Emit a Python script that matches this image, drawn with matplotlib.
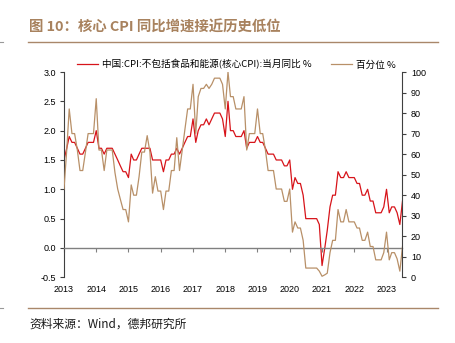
import numpy as np
import pandas as pd
import matplotlib
matplotlib.use('Agg')
import matplotlib.pyplot as plt
from matplotlib.lines import Line2D

plt.rcParams['font.family'] = ['Noto Sans CJK SC', 'DejaVu Sans']

# 月度数据 2013-01 ~ 2023-07
months = pd.date_range('2013-01-01', '2023-07-01', freq='MS')

core_cpi = [
    1.5, 1.7, 1.9, 1.8, 1.8, 1.7, 1.6, 1.6, 1.7, 1.8, 1.8, 1.8,   # 2013
    2.0, 1.7, 1.7, 1.6, 1.7, 1.7, 1.7, 1.6, 1.5, 1.4, 1.3, 1.3,   # 2014
    1.2, 1.6, 1.5, 1.5, 1.6, 1.7, 1.7, 1.7, 1.7, 1.5, 1.5, 1.5,   # 2015
    1.5, 1.3, 1.5, 1.5, 1.6, 1.6, 1.7, 1.6, 1.7, 1.8, 1.9, 1.9,   # 2016
    2.2, 1.8, 2.0, 2.1, 2.1, 2.2, 2.1, 2.2, 2.3, 2.3, 2.3, 2.2,   # 2017
    1.9, 2.5, 2.0, 2.0, 1.9, 1.9, 1.9, 2.0, 1.7, 1.8, 1.8, 1.8,   # 2018
    1.9, 1.8, 1.8, 1.7, 1.6, 1.6, 1.6, 1.5, 1.5, 1.5, 1.4, 1.4,   # 2019
    1.5, 1.0, 1.2, 1.1, 1.1, 0.9, 0.5, 0.5, 0.5, 0.5, 0.5, 0.4,   # 2020
    -0.3, 0.0, 0.3, 0.7, 0.9, 0.9, 1.3, 1.2, 1.2, 1.3, 1.2, 1.2,  # 2021
    1.2, 1.1, 1.1, 0.9, 0.9, 1.0, 0.8, 0.8, 0.6, 0.6, 0.6, 0.7,   # 2022
    1.0, 0.6, 0.7, 0.7, 0.6, 0.4, 0.8,                            # 2023
]

percentile = [
    43, 62, 82, 70, 70, 62, 52, 52, 61, 70, 70, 70,               # 2013
    87, 62, 62, 52, 62, 62, 62, 51, 43, 38, 33, 33,               # 2014
    27, 45, 40, 40, 49, 61, 61, 69, 61, 41, 49, 42,               # 2015
    42, 33, 42, 42, 52, 52, 68, 52, 62, 72, 82, 82,               # 2016
    94, 70, 88, 92, 92, 94, 92, 94, 97, 97, 97, 94,               # 2017
    82, 100, 88, 88, 82, 82, 82, 88, 62, 70, 70, 70,              # 2018
    82, 70, 70, 62, 52, 52, 52, 43, 43, 43, 37, 37,               # 2019
    43, 22, 27, 24, 24, 18, 4.5, 4.5, 4.5, 4.5, 4.5, 3,           # 2020
    0.5, 1.2, 2, 12, 18, 18, 33, 27, 27, 33, 27, 27,              # 2021
    27, 24, 24, 18, 18, 22, 15, 15, 8.5, 8.5, 8.5, 12,            # 2022
    22, 8.5, 12, 12, 9, 3, 15,                                    # 2023
]

years = list(range(2013, 2024))
year_labels = [str(y) for y in years]
left_ticks = np.arange(-0.5, 3.01, 0.5)
right_ticks = np.arange(0, 101, 10)

red = '#D7141A'
tan = '#B89068'
brown = '#A9876A'

fig = plt.figure(figsize=(4.56, 3.43), dpi=100)
ax = fig.add_axes([64 / 456, 1 - 277.3 / 343, (402.5 - 64) / 456, (277.3 - 72) / 343])
ax2 = ax.twinx()

l1, = ax.plot(months, core_cpi, color=red, lw=0.9)
l2, = ax2.plot(months, percentile, color=tan, lw=0.9)

ax.set_xlim(months[0], months[-1])
ax.set_ylim(-0.5, 3.0)
ax2.set_ylim(0, 100)

ax.set_xticks([pd.Timestamp(f'{y}-01-01') for y in years])
ax.set_xticklabels(year_labels)
ax.set_yticks(left_ticks)
ax.set_yticklabels([f'{v:.1f}' for v in left_ticks])
ax2.set_yticks(right_ticks)
ax2.set_yticklabels([str(v) for v in right_ticks])

# 横轴放在0处，标签留在底部
ax.spines['bottom'].set_position(('data', 0))
ax.spines['bottom'].set_color('#808080')
ax.spines['bottom'].set_linewidth(1.0)
for a in (ax, ax2):
    a.spines['top'].set_visible(False)
ax2.spines['bottom'].set_visible(False)
ax2.spines['left'].set_visible(False)
ax.spines['right'].set_visible(False)
ax.spines['left'].set_color('#404040')
ax2.spines['right'].set_color('#404040')

ax.tick_params(axis='x', direction='out', length=3, pad=24, colors='#808080',
               labelcolor='black', labelsize=6.5, labelfontfamily='Liberation Sans')
ax.tick_params(axis='y', direction='out', length=3, pad=3, colors='#404040',
               labelcolor='black', labelsize=6.5, labelfontfamily='Liberation Sans')
ax2.tick_params(axis='y', direction='out', length=3, pad=3, colors='#404040',
                labelcolor='black', labelsize=6.5, labelfontfamily='Liberation Sans')

fig.legend([l1, l2], ['中国:CPI:不包括食品和能源(核心CPI):当月同比 %', '百分位 %'],
           loc='center left', bbox_to_anchor=(77 / 456, 1 - 64.5 / 343), ncol=2,
           frameon=False, fontsize=6.9, handlelength=2.2, handletextpad=0.4,
           columnspacing=2.0, borderpad=0, borderaxespad=0)

# 标题、分隔线、来源
fig.text(29 / 456, 1 - 27.5 / 343, '图 10：核心 CPI 同比增速接近历史低位',
         fontsize=10.4, fontweight='bold', color='#A8825E', va='center', ha='left')
fig.add_artist(Line2D([28 / 456, 438.5 / 456], [1 - 42 / 343] * 2, color=brown, lw=1.0))
fig.add_artist(Line2D([0, 3 / 456], [1 - 42 / 343] * 2, color='#999999', lw=0.8))
fig.add_artist(Line2D([28 / 456, 438.5 / 456], [1 - 308.3 / 343] * 2, color=brown, lw=1.0))
fig.add_artist(Line2D([0, 3 / 456], [1 - 308.3 / 343] * 2, color='#999999', lw=0.8))
fig.text(29 / 456, 1 - 324 / 343, '资料来源：Wind，德邦研究所',
         fontsize=8.5, color='#1a1a1a', va='center', ha='left')

fig.savefig('out.png', dpi=100)
